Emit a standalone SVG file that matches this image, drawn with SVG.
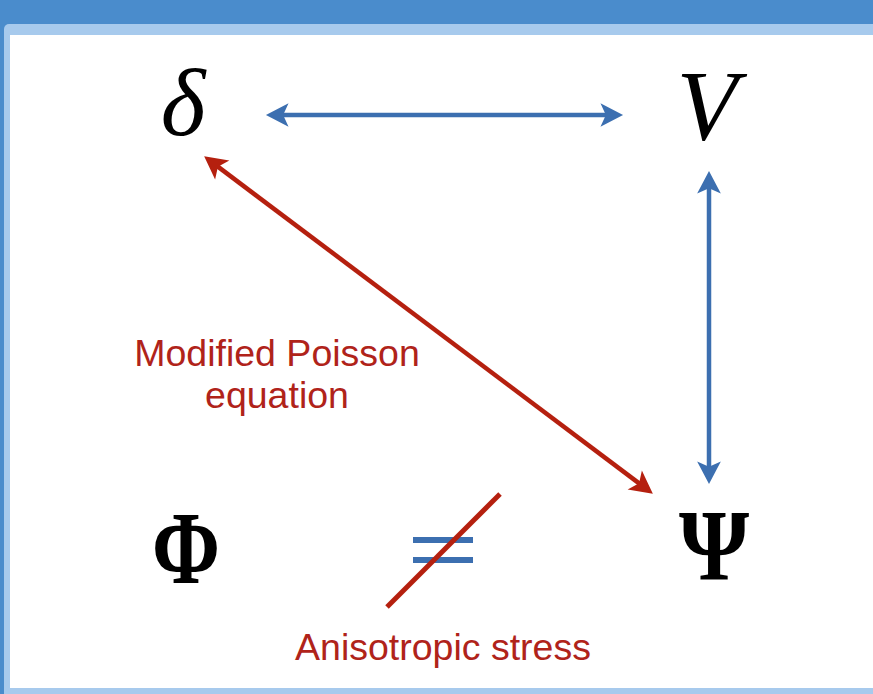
<svg xmlns="http://www.w3.org/2000/svg" width="873" height="694" viewBox="0 0 873 694">
  <style>
    .sym { font-family: "Liberation Serif", "Times New Roman", serif; fill: #000; text-anchor: middle; }
    .lbl { font-family: "Liberation Sans", Arial, sans-serif; font-size: 37.5px; fill: #b0231a; text-anchor: middle; }
    .blue { stroke: #3c6fb0; stroke-width: 4.5; fill: none; }
    .red { stroke: #b5200f; stroke-width: 4.5; fill: none; }
  </style>
  <defs>
    <marker id="ah-blue" markerUnits="userSpaceOnUse" markerWidth="28" markerHeight="28" viewBox="-2 -13 26 26" refX="7" refY="0" orient="auto-start-reverse">
      <path d="M0,-11 L21,0 L0,11 L5,0 Z" fill="#3c6fb0"/>
    </marker>
    <marker id="ah-red" markerUnits="userSpaceOnUse" markerWidth="28" markerHeight="28" viewBox="-2 -13 26 26" refX="7" refY="0" orient="auto-start-reverse">
      <path d="M0,-11 L21,0 L0,11 L5,0 Z" fill="#b5200f"/>
    </marker>
  </defs>

  <g id="frame">
    <rect x="0" y="0" width="873" height="694" fill="#4a8ccc"/>
    <rect x="4" y="24" width="900" height="700" rx="5" fill="#a7caed"/>
    <rect x="10" y="35" width="870" height="653" fill="#ffffff"/>
  </g>

  <g id="connectors">
    <line class="blue" x1="281" y1="115" x2="608" y2="115" marker-start="url(#ah-blue)" marker-end="url(#ah-blue)"/>
    <line class="blue" x1="709" y1="186" x2="709" y2="469" marker-start="url(#ah-blue)" marker-end="url(#ah-blue)"/>
    <line class="red" x1="216.2" y1="165.4" x2="640.8" y2="484.6" marker-start="url(#ah-red)" marker-end="url(#ah-red)"/>
  </g>

  <g id="node-delta">
    <text class="sym" x="183" y="135" font-size="96" font-style="italic">δ</text>
  </g>
  <g id="node-V">
    <text class="sym" x="707" y="139" font-size="100" font-style="italic">V</text>
  </g>
  <g id="node-Phi">
    <text class="sym" transform="translate(186,583) scale(0.82,1.04)" x="0" y="0" font-size="100" font-weight="bold">Φ</text>
  </g>
  <g id="node-Psi">
    <text class="sym" transform="translate(714,580) scale(0.9,1.02)" x="0" y="0" font-size="100" font-weight="bold">Ψ</text>
  </g>

  <g id="not-equal">
    <rect x="413" y="537" width="60" height="6" fill="#3c6fb0"/>
    <rect x="413" y="557" width="60" height="6" fill="#3c6fb0"/>
    <line x1="387" y1="607" x2="500" y2="494" stroke="#b5200f" stroke-width="5"/>
  </g>

  <g id="label-poisson">
    <text class="lbl" x="277" y="366">Modified Poisson</text>
    <text class="lbl" x="277" y="408">equation</text>
  </g>
  <g id="label-anisotropic">
    <text class="lbl" x="443" y="660">Anisotropic stress</text>
  </g>
</svg>
